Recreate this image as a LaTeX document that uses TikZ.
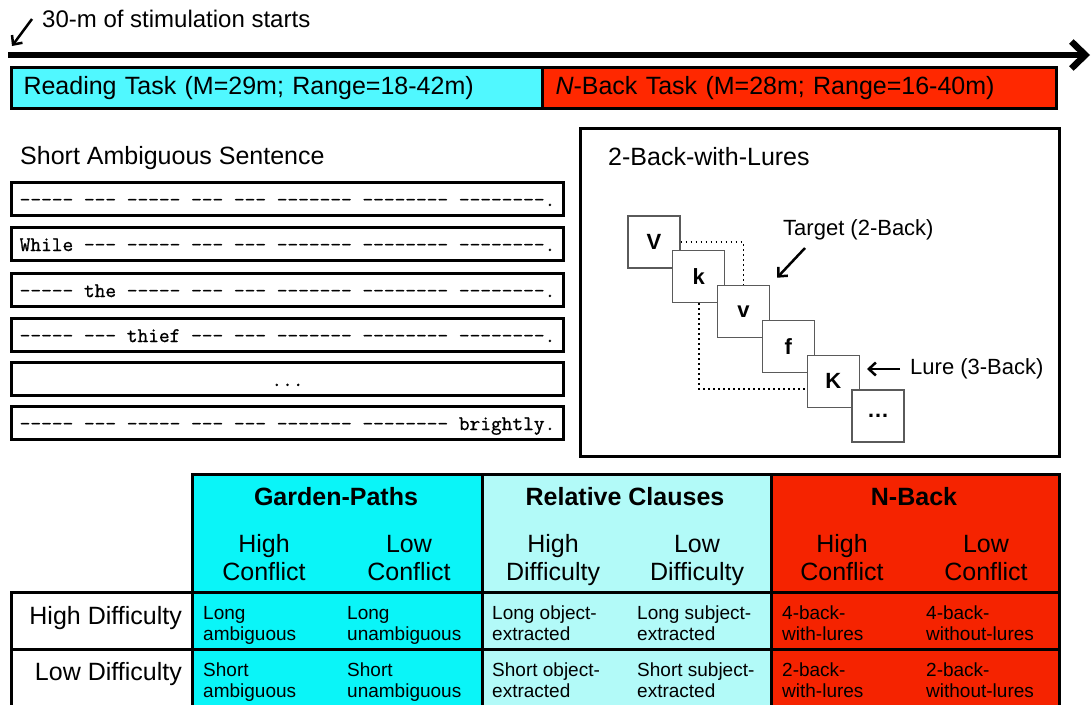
\documentclass[tikz,border=0pt]{standalone}
\usepackage{fontspec}
\setmainfont{Liberation Sans}
\newfontfamily\sentfont{Latin Modern Mono}[FakeBold=1]
\usetikzlibrary{positioning,arrows.meta}

\definecolor{readcyan}{RGB}{80,248,255}
\definecolor{taskred}{RGB}{255,40,0}
\definecolor{gardencyan}{RGB}{10,245,248}
\definecolor{relcyan}{RGB}{178,250,248}
\definecolor{nbackred}{RGB}{245,35,0}
\definecolor{sqgray}{RGB}{90,90,90}

\tikzset{
  bigtext/.style={font=\fontsize{25}{28}\selectfont, inner sep=0pt},
  boldhead/.style={font=\fontsize{25}{28}\selectfont\bfseries, inner sep=0pt},
  celltext/.style={font=\fontsize{19}{21}\selectfont, inner sep=0pt, align=left, anchor=west},
  taskbar/.style={draw, line width=3pt, anchor=north west, minimum height=41pt, inner sep=0pt},
  sentbox/.style={draw, line width=3pt, anchor=north west, minimum width=552pt, minimum height=33pt, inner sep=0pt, font=\sentfont\fontsize{20.8}{21}\selectfont},
  lettersq/.style={draw=sqgray, line width=1.2pt, fill=white, minimum size=52pt, inner sep=0pt, font=\bfseries\fontsize{22}{22}\selectfont},
  tabcell/.style={draw, line width=3pt, anchor=north west, inner sep=0pt},
  pointer/.style={line width=2.5pt, -{Straight Barb[length=7pt,width=13pt]}},
}

\begin{document}
\begin{tikzpicture}[x=1pt, y=-1pt]
    \useasboundingbox (0,0) rectangle (1092,704);
    % time line
    \coordinate (tstart) at (8,55);
    \coordinate (tend) at (1090,55);
    \draw[line width=6.5pt, -{Straight Barb[length=14pt,width=27pt]}] (tstart) -- (tend);
    \node[bigtext, font=\fontsize{24}{28}\selectfont, anchor=west] (stimlbl) at (42,19) {30-m of stimulation starts};
    \coordinate (stimfrom) at (32,19);
    \coordinate (stimto) at (12,46);
    \draw[pointer] (stimfrom) -- (stimto);
    \node[taskbar, bigtext, fill=readcyan, minimum width=531pt, text width=507pt, align=left] (readbar) at (10,66) {Reading Task (M=29m; Range=18-42m)};
    \node[taskbar, bigtext, fill=taskred, minimum width=514pt, text width=488pt, align=left] (nbackbar) at (541,66) {\textit{N}-Back Task (M=28m; Range=16-40m)};

    % reading panel
    \node[bigtext, anchor=west] (senttitle) at (20,158) {Short Ambiguous Sentence};
    \foreach \i/\y/\words in {1/181/{----- --- ----- --- --- ------- -------- --------.},
                              2/226/{While --- ----- --- --- ------- -------- --------.},
                              3/272/{----- the ----- --- --- ------- -------- --------.},
                              4/317/{----- --- thief --- --- ------- -------- --------.},
                              5/361/{{.}{.}{.}},
                              6/405/{----- --- ----- --- --- ------- -------- brightly.}}
        \node[sentbox] (sent\i) at (10,\y) {\raisebox{-3pt}[12.7pt][4.6pt]{\words}};

    % n-back panel
    \node[tabcell, minimum width=479pt, minimum height=328pt] (nbpanel) at (579,127) {};
    \node[bigtext, anchor=west] (nbtitle) at (608,157) {2-Back-with-Lures};
    \foreach \i/\lt in {0/V,1/k,2/v,3/f,4/K,5/{\textellipsis}}
        \node[lettersq] (sq\i) at ({654+44.8*\i},{242+34.8*\i}) {\lt};
    \draw[line width=1.5pt, dash pattern=on 1.5pt off 3.5pt] (sq0.east) -| (sq2.north);
    \draw[line width=1.5pt, dash pattern=on 1.5pt off 3.5pt] (sq1.south) |- ([yshift=-8pt]sq4.west);
    \node[font=\fontsize{22}{24}\selectfont, inner sep=0pt, anchor=west] (tgtlbl) at (783,230) {Target (2-Back)};
    \coordinate (tgtfrom) at (805,248);
    \draw[pointer, shorten >=10pt] (tgtfrom) -- (sq2.north east);
    \node[font=\fontsize{22}{24}\selectfont, inner sep=0pt, anchor=west] (lurelbl) at (910,369) {Lure (3-Back)};
    \coordinate (lureto) at (867,369);
    \draw[pointer, shorten <=10pt] (lurelbl.west) -- (lureto);

    % design table
    \node[tabcell, fill=gardencyan, minimum width=290pt, minimum height=118pt] (gphead) at (191,473) {};
    \node[tabcell, fill=relcyan, minimum width=289pt, minimum height=118pt] (rchead) at (481,473) {};
    \node[tabcell, fill=nbackred, minimum width=288pt, minimum height=118pt] (nbhead) at (770,473) {};
    \node[tabcell, minimum width=181pt, minimum height=57pt] (hirow) at (10,591) {};
    \node[tabcell, minimum width=181pt, minimum height=62pt] (lorow) at (10,648) {};
    \node[tabcell, fill=gardencyan, minimum width=290pt, minimum height=57pt] (gphi) at (191,591) {};
    \node[tabcell, fill=relcyan, minimum width=289pt, minimum height=57pt] (rchi) at (481,591) {};
    \node[tabcell, fill=nbackred, minimum width=288pt, minimum height=57pt] (nbhi) at (770,591) {};
    \node[tabcell, fill=gardencyan, minimum width=290pt, minimum height=62pt] (gplo) at (191,648) {};
    \node[tabcell, fill=relcyan, minimum width=289pt, minimum height=62pt] (rclo) at (481,648) {};
    \node[tabcell, fill=nbackred, minimum width=288pt, minimum height=62pt] (nblo) at (770,648) {};

    \foreach \x/\title in {336/Garden-Paths, 625/Relative Clauses, 914/N-Back}
        \node[boldhead] (ttl\x) at (\x,497) {\title};
    \foreach \x/\a/\b in {264/High/Conflict, 409/Low/Conflict, 553/High/Difficulty,
                          697/Low/Difficulty, 842/High/Conflict, 986/Low/Conflict}
        \node[bigtext, align=center] (sub\x) at (\x,561) {\a\strut\\\b\strut};
    \node[bigtext, anchor=east] (hilbl) at (182,618) {High Difficulty};
    \node[bigtext, anchor=east] (lolbl) at (182,674) {Low Difficulty};
    \foreach \x/\c/\d in {203/{Long\strut\\ambiguous\strut}/{Short\strut\\ambiguous\strut},
                          347/{Long\strut\\unambiguous\strut}/{Short\strut\\unambiguous\strut},
                          492/{Long object-\strut\\extracted\strut}/{Short object-\strut\\extracted\strut},
                          637/{Long subject-\strut\\extracted\strut}/{Short subject-\strut\\extracted\strut},
                          782/{4-back-\strut\\with-lures\strut}/{2-back-\strut\\with-lures\strut},
                          926/{4-back-\strut\\without-lures\strut}/{2-back-\strut\\without-lures\strut}}
    {
        \node[celltext] (hicell\x) at (\x,625.5) {\c};
        \node[celltext] (locell\x) at (\x,682.5) {\d};
    }
\end{tikzpicture}
\end{document}
